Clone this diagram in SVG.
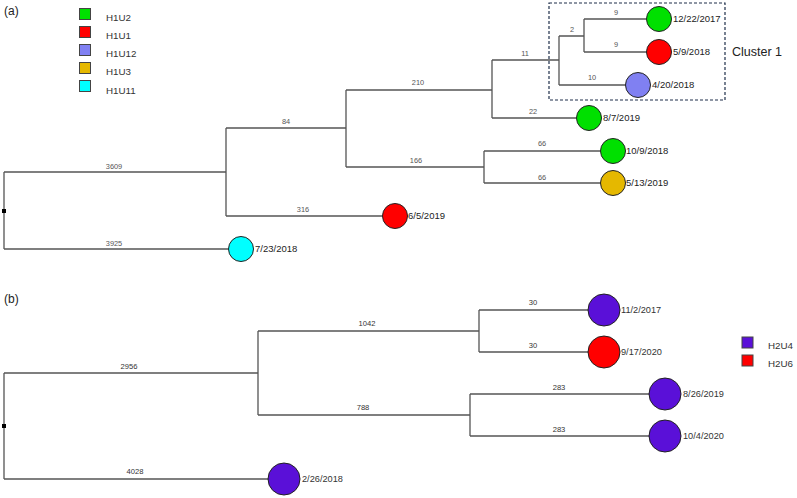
<svg xmlns="http://www.w3.org/2000/svg" width="797" height="498" viewBox="0 0 797 498">
<style>
  .br{fill:none;stroke:#555;stroke-width:1.3}
  .bl{font-family:"Liberation Sans",Arial,sans-serif;font-size:7.4px;fill:#555;text-anchor:middle}
  .blb{font-family:"Liberation Sans",Arial,sans-serif;font-size:7.6px;fill:#333;text-anchor:middle}
  .tip{stroke:#222;stroke-width:1}
  .dt{font-family:"Liberation Sans",Arial,sans-serif;font-size:9.5px;fill:#222}
  .dtb{font-family:"Liberation Sans",Arial,sans-serif;font-size:9.2px;fill:#333}
  .lg{font-family:"Liberation Sans",Arial,sans-serif;font-size:9.8px;fill:#333}
  .pl{font-family:"Liberation Sans",Arial,sans-serif;font-size:12px;fill:#222}
  .sq{stroke:#444;stroke-width:1}
  .g{fill:#00e000}.r{fill:#ff0000}.l{fill:#8080f2}.y{fill:#e5b800}.c{fill:#00ffff}.p{fill:#5a10d8}
</style>
<rect width="797" height="498" fill="#ffffff"/>
<text class="pl" x="4" y="15">(a)</text>
<text class="pl" x="4" y="303">(b)</text>

<g id="legend-a">
  <g id="leg-H1U2"><rect class="sq g" x="79.5" y="8.5" width="11" height="11"/><text class="lg" x="106" y="21">H1U2</text></g>
  <g id="leg-H1U1"><rect class="sq r" x="79.5" y="26.5" width="11" height="11"/><text class="lg" x="106" y="39">H1U1</text></g>
  <g id="leg-H1U12"><rect class="sq l" x="79.5" y="44.5" width="11" height="11"/><text class="lg" x="106" y="57">H1U12</text></g>
  <g id="leg-H1U3"><rect class="sq y" x="79.5" y="62.5" width="11" height="11"/><text class="lg" x="106" y="75">H1U3</text></g>
  <g id="leg-H1U11"><rect class="sq c" x="79.5" y="80.5" width="11" height="11"/><text class="lg" x="106" y="94">H1U11</text></g>
</g>

<g id="cluster1">
  <rect x="549" y="3" width="176" height="97" fill="none" stroke="#1f2f4a" stroke-width="1.2" stroke-dasharray="3,2"/>
  <text x="732" y="56" font-family="Liberation Sans, Arial, sans-serif" font-size="12.5" fill="#222">Cluster 1</text>
</g>

<g id="connectors">
  <!-- tree a -->
  <path class="br" d="M4,172 V249 M4,172 H226 M4,249 H241"/>
  <path class="br" d="M226,128 V216 M226,128 H346 M226,216 H395"/>
  <path class="br" d="M346,90 V167 M346,90 H492 M346,167 H484"/>
  <path class="br" d="M492,60 V118 M492,60 H559 M492,118 H589"/>
  <path class="br" d="M559,36 V85 M559,36 H584 M559,85 H638"/>
  <path class="br" d="M584,19 V52 M584,19 H659 M584,52 H659"/>
  <path class="br" d="M484,151 V183 M484,151 H613 M484,183 H613"/>
  <rect x="2" y="209" width="4" height="4" fill="#000"/>
  <!-- tree b -->
  <path class="br" d="M4,373 V479 M4,373 H258 M4,479 H284"/>
  <path class="br" d="M258,331 V415 M258,331 H479 M258,415 H470"/>
  <path class="br" d="M479,310 V352 M479,310 H604 M479,352 H604"/>
  <path class="br" d="M470,394 V436 M470,394 H665 M470,436 H665"/>
  <rect x="2" y="424" width="4" height="4" fill="#000"/>
  <!-- branch labels -->
  <text class="bl" x="114" y="169">3609</text>
  <text class="bl" x="114" y="246">3925</text>
  <text class="bl" x="286" y="124">84</text>
  <text class="bl" x="303" y="212">316</text>
  <text class="bl" x="418" y="85">210</text>
  <text class="bl" x="416" y="163">166</text>
  <text class="bl" x="525" y="56">11</text>
  <text class="bl" x="533" y="114">22</text>
  <text class="bl" x="572" y="32">2</text>
  <text class="bl" x="616" y="15">9</text>
  <text class="bl" x="616" y="47">9</text>
  <text class="bl" x="592" y="80">10</text>
  <text class="bl" x="542" y="146">66</text>
  <text class="bl" x="542" y="180">66</text>
  <text class="blb" x="129" y="369">2956</text>
  <text class="blb" x="135" y="474">4028</text>
  <text class="blb" x="367" y="326">1042</text>
  <text class="blb" x="363" y="410">788</text>
  <text class="blb" x="533" y="305">30</text>
  <text class="blb" x="533" y="348">30</text>
  <text class="blb" x="559" y="390">283</text>
  <text class="blb" x="559" y="432">283</text>
</g>

<g id="n-12-22-2017"><circle class="tip g" cx="659" cy="19" r="12.5"/><text class="dt" x="673" y="22.3">12/22/2017</text></g>
<g id="n-5-9-2018"><circle class="tip r" cx="659" cy="52" r="12.5"/><text class="dt" x="673" y="55.3">5/9/2018</text></g>
<g id="n-4-20-2018"><circle class="tip l" cx="638" cy="85" r="12.5"/><text class="dt" x="652" y="88.3">4/20/2018</text></g>
<g id="n-8-7-2019"><circle class="tip g" cx="589" cy="118" r="12.5"/><text class="dt" x="603" y="121.3">8/7/2019</text></g>
<g id="n-10-9-2018"><circle class="tip g" cx="613" cy="151" r="12.5"/><text class="dt" x="626" y="154.3">10/9/2018</text></g>
<g id="n-5-13-2019"><circle class="tip y" cx="613" cy="183" r="12.5"/><text class="dt" x="626" y="186.3">5/13/2019</text></g>
<g id="n-6-5-2019"><circle class="tip r" cx="395" cy="216" r="12.5"/><text class="dt" x="408" y="219.3">6/5/2019</text></g>
<g id="n-7-23-2018"><circle class="tip c" cx="241" cy="249" r="12.5"/><text class="dt" x="255" y="252.3">7/23/2018</text></g>

<g id="n-11-2-2017"><circle class="tip p" cx="604" cy="310" r="16"/><text class="dtb" x="621" y="313.3">11/2/2017</text></g>
<g id="n-9-17-2020"><circle class="tip r" cx="604" cy="352" r="16"/><text class="dtb" x="621" y="355.3">9/17/2020</text></g>
<g id="n-8-26-2019"><circle class="tip p" cx="665" cy="394" r="16"/><text class="dtb" x="683" y="397.3">8/26/2019</text></g>
<g id="n-10-4-2020"><circle class="tip p" cx="665" cy="436" r="16"/><text class="dtb" x="683" y="439.3">10/4/2020</text></g>
<g id="n-2-26-2018"><circle class="tip p" cx="284" cy="479" r="16"/><text class="dtb" x="302" y="482.3">2/26/2018</text></g>

<g id="legend-b">
  <g id="leg-H2U4"><rect class="sq p" x="742" y="337" width="11" height="11"/><text class="lg" x="768" y="348.5">H2U4</text></g>
  <g id="leg-H2U6"><rect class="sq r" x="742" y="355" width="11" height="11"/><text class="lg" x="768" y="366.5">H2U6</text></g>
</g>
</svg>
